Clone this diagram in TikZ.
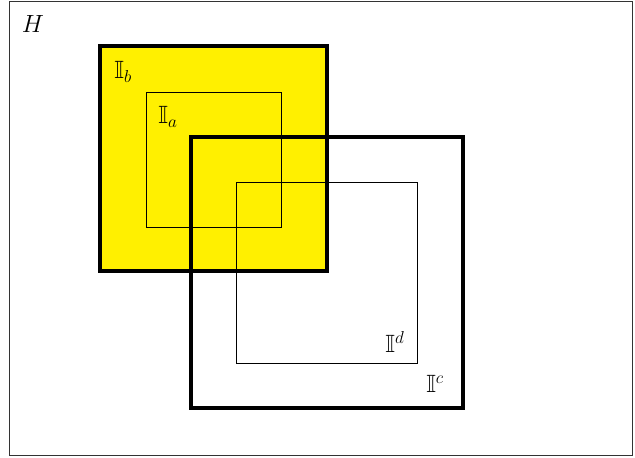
\documentclass[tikz,border=0pt]{standalone}
\usepackage{amssymb}
\definecolor{setyellow}{RGB}{255,240,0}
\begin{document}
\begin{tikzpicture}[x=1pt,y=-1pt,
  thin box/.style={draw=black,line width=0.9pt},
  thick box/.style={draw=black,line width=3.6pt},
  lbl/.style={inner sep=0pt,font=\fontsize{25}{30}\selectfont}]
\useasboundingbox (0,0) rectangle (635,458);
\draw[line width=1pt,draw=black!80] (9,1.5) rectangle (632,455);
\fill[setyellow] (100,46) rectangle (327,271);
\draw[thin box] (146,92) rectangle (281,227);
\draw[thick box] (100,46) rectangle (327,271);
\draw[thin box] (236,182) rectangle (417,363);
\draw[thick box] (191,137) rectangle (463,408);
\node[lbl] (H) at (33,24) {$H$};
\node[lbl] (Ib) at (123,72) {$\mathbb{I}_b$};
\node[lbl] (Ia) at (168,117) {$\mathbb{I}_a$};
\node[lbl] (Id) at (395,342) {$\mathbb{I}^d$};
\node[lbl] (Ic) at (435,384) {$\mathbb{I}^c$};
\end{tikzpicture}
\end{document}
